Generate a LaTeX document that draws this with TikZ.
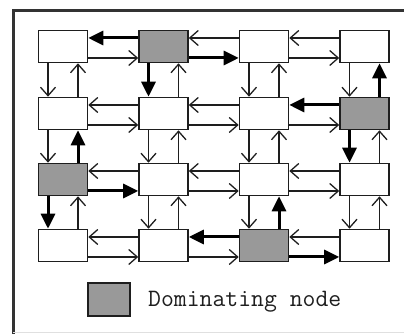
\documentclass[tikz,border=0pt]{standalone}
\usetikzlibrary{arrows.meta}
\definecolor{domgray}{HTML}{999999}
\definecolor{ink}{HTML}{1E1E1E}
% dominating nodes of the grid
\expandafter\def\csname dom12\endcsname{}
\expandafter\def\csname dom24\endcsname{}
\expandafter\def\csname dom31\endcsname{}
\expandafter\def\csname dom43\endcsname{}
\begin{document}
\begin{tikzpicture}[x=1pt,y=1pt,
  cell/.style={draw=ink, line width=1.6pt, fill=white, minimum width=49pt,
    minimum height=32pt, inner sep=0pt},
  domcell/.style={cell, fill=domgray},
  link/.style={line width=1.3pt, draw=ink,
    -{Straight Barb[length=8.5pt,width=15pt,line width=1.3pt]}},
  mainlink/.style={line width=3pt, draw=black,
    -{Triangle[length=15pt,width=14pt]}}]
\useasboundingbox (0,0) rectangle (404,334);

% outer frame
\draw[line width=3pt, black!80] (13,0) -- (13,323.5) -- (404,323.5);
\draw[line width=1pt, black!12] (13,1) -- (404,1);

% grid of nodes
\foreach \r/\y in {1/287.5,2/220.5,3/154.5,4/88.5}{
  \foreach \c/\x in {1/63,2/163.5,3/264,4/364.5}{
    \ifcsname dom\r\c\endcsname
      \node[domcell] (n\r\c) at (\x,\y) {};
    \else
      \node[cell] (n\r\c) at (\x,\y) {};
    \fi
  }
}

% horizontal links: leftward on the upper line, rightward on the lower line
\foreach \r in {1,...,4}{
  \foreach \c [evaluate=\c as \cn using int(\c+1)] in {1,2,3}{
    \ifcsname dom\r\cn\endcsname
      \draw[mainlink] ([yshift=8.5pt]n\r\cn.west) -- ([yshift=8.5pt]n\r\c.east);
    \else
      \draw[link] ([yshift=8.5pt]n\r\cn.west) -- ([yshift=8.5pt]n\r\c.east);
    \fi
    \ifcsname dom\r\c\endcsname
      \draw[mainlink] ([yshift=-11.5pt]n\r\c.east) -- ([yshift=-11.5pt]n\r\cn.west);
    \else
      \draw[link] ([yshift=-11.5pt]n\r\c.east) -- ([yshift=-11.5pt]n\r\cn.west);
    \fi
  }
}

% vertical links: downward on the left line, upward on the right line
\foreach \c in {1,...,4}{
  \foreach \r [evaluate=\r as \rn using int(\r+1)] in {1,2,3}{
    \ifcsname dom\r\c\endcsname
      \draw[mainlink] ([xshift=-15pt]n\r\c.south) -- ([xshift=-15pt]n\rn\c.north);
    \else
      \draw[link] ([xshift=-15pt]n\r\c.south) -- ([xshift=-15pt]n\rn\c.north);
    \fi
    \ifcsname dom\rn\c\endcsname
      \draw[mainlink] ([xshift=15pt]n\rn\c.north) -- ([xshift=15pt]n\r\c.south);
    \else
      \draw[link] ([xshift=15pt]n\rn\c.north) -- ([xshift=15pt]n\r\c.south);
    \fi
  }
}

% legend
\node[draw=ink, line width=1.6pt, fill=domgray, minimum width=42pt,
  minimum height=33pt, inner sep=0pt] (key) at (109,34.5) {};
\node[anchor=base west, inner sep=0pt, text=ink,
  font=\ttfamily\fontsize{25}{28}\selectfont] (keytext) at (148,27)
  {Dominating node};
\end{tikzpicture}
\end{document}
